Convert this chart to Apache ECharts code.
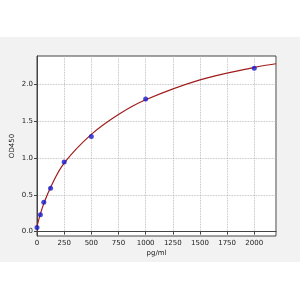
<!DOCTYPE html>
<html><head><meta charset="utf-8">
<script src="https://cdn.jsdelivr.net/npm/echarts@6/dist/echarts.min.js"></script>
<style>html,body{margin:0;padding:0;background:#fff}#c{width:300px;height:300px}</style>
</head><body><div id="c"></div>
<script>
const concentrations = [0, 31.25, 62.5, 125, 250, 500, 1000, 2000];
const odValues = [0.055, 0.23, 0.40, 0.59, 0.945, 1.29, 1.80, 2.22];
const curveX = [0, 31.25, 62.5, 125, 250, 500, 750, 1000, 1500, 2000, 2200];
const curveY = [0.07, 0.24, 0.38, 0.60, 0.93, 1.32, 1.59, 1.79, 2.06, 2.23, 2.28];
const yTicks = [0, 0.5, 1.0, 1.5, 2.0];

const chart = echarts.init(document.getElementById('c'), null, {renderer: 'canvas'});
const font = 'DejaVu Sans';
chart.setOption({
  animation: false,
  backgroundColor: '#ffffff',
  graphic: [{type: 'rect', z: -10, shape: {x: 0, y: 37, width: 300, height: 225}, style: {fill: '#f2f2f2'}}],
  grid: {left: 37, right: 24, top: 56, bottom: 64, show: true, backgroundColor: '#ffffff', borderColor: '#444', borderWidth: 1,
    containLabel: false, outerBoundsMode: 'none'},
  xAxis: {
    type: 'value', min: 0, max: 2200, interval: 250,
    name: 'pg/ml', nameLocation: 'middle', nameGap: 14, nameMoveOverlap: false,
    nameTextStyle: {fontFamily: font, fontSize: 7, color: '#222'},
    axisLine: {show: true, lineStyle: {color: '#444'}},
    axisTick: {show: true, length: 3, lineStyle: {color: '#444'}},
    axisLabel: {showMaxLabel: false, fontFamily: font, fontSize: 7, color: '#222', margin: 4,
      formatter: v => String(v)},
    splitLine: {show: true, lineStyle: {color: '#b0b0b0', type: 'dotted', width: 0.8}}
  },
  yAxis: {
    type: 'value', min: -0.06, max: 2.385,
    name: 'OD450', nameLocation: 'middle', nameGap: 21, nameMoveOverlap: false,
    nameTextStyle: {fontFamily: font, fontSize: 7, color: '#222'},
    axisLine: {show: true, lineStyle: {color: '#444'}},
    axisTick: {show: true, length: 3, customValues: yTicks, lineStyle: {color: '#444'}},
    axisLabel: {customValues: yTicks, fontFamily: font, fontSize: 7, color: '#222', margin: 4,
      formatter: v => v.toFixed(1)},
    splitLine: {show: true, lineStyle: {color: '#b0b0b0', type: 'dotted', width: 0.8}}
  },
  series: [
    {type: 'line', data: curveX.map((x, i) => [x, curveY[i]]), smooth: 0.4, showSymbol: false,
     lineStyle: {color: '#a01c1c', width: 1.2}, z: 2},
    {type: 'scatter', data: concentrations.map((x, i) => [x, odValues[i]]), symbolSize: 5,
     itemStyle: {color: '#1a1acc'}, z: 3}
  ]
});
</script></body></html>
